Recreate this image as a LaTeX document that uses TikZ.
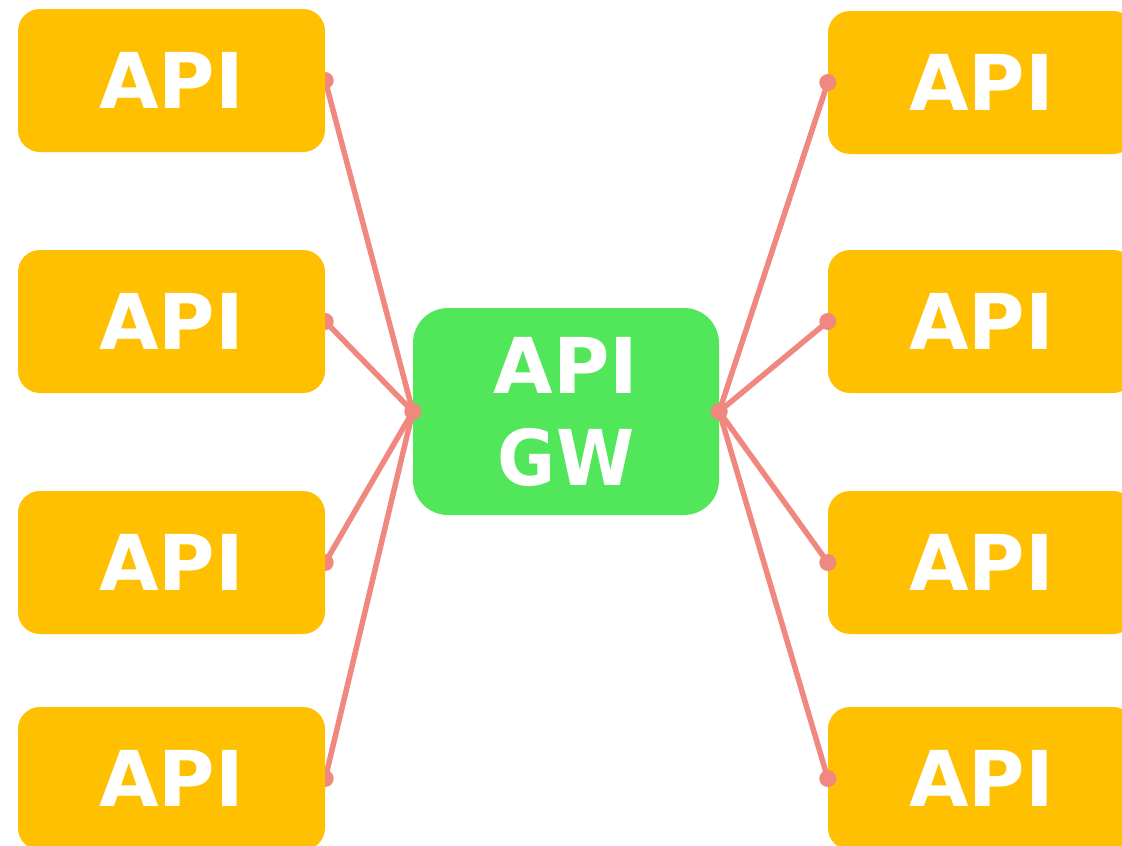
\documentclass[tikz,border=0pt]{standalone}
\usepackage{fontspec}
\setmainfont{DejaVu Sans}
\definecolor{apiyellow}{RGB}{254,192,0}
\definecolor{gwgreen}{RGB}{82,231,90}
\definecolor{linkred}{RGB}{240,136,128}
\pgfdeclarelayer{front}
\pgfsetlayers{main,front}
\begin{document}
\begin{tikzpicture}[x=1pt,y=-1pt,
  api/.style={rectangle, rounded corners=22pt, fill=apiyellow,
    minimum width=307pt, minimum height=143pt, inner sep=0pt,
    text=white, font=\fontsize{77}{92}\selectfont\bfseries},
  gwbox/.style={rectangle, rounded corners=35pt, fill=gwgreen,
    minimum width=306pt, minimum height=207pt, inner sep=0pt,
    align=center, text=white, font=\fontsize{77}{92}\selectfont\bfseries},
  link/.style={draw=linkred, line width=5.5pt},
  joint/.style={fill=linkred}]
\useasboundingbox (0,0) rectangle (1122,846);
\clip (0,0) rectangle (1122,846);

% services on the left sit above their connectors
\begin{pgfonlayer}{front}
  \node[api] (l1) at (171.5,80.5) {API};
  \node[api] (l2) at (171.5,321.5) {API};
  \node[api] (l3) at (171.5,562.5) {API};
  \node[api] (l4) at (171.5,778.5) {API};
\end{pgfonlayer}

% gateway
\node[gwbox] (gw) at (566,411.5) {API\\\scalebox{0.92}[1]{GW}};

% services on the right
\node[api] (r1) at (981.5,82.5) {API};
\node[api] (r2) at (981.5,321.5) {API};
\node[api] (r3) at (981.5,562.5) {API};
\node[api] (r4) at (981.5,778.5) {API};

% connectors
\foreach \s in {l1,l2,l3,l4}
  \draw[link] (\s.east) -- (gw.west);
\foreach \s in {r1,r2,r3,r4}
  \draw[link] (gw.east) -- (\s.west);

% end points
\foreach \s in {l1,l2,l3,l4}
  \fill[joint] (\s.east) circle (8.5pt);
\foreach \s in {r1,r2,r3,r4}
  \fill[joint] (\s.west) circle (8.5pt);
\fill[joint] (gw.west) circle (8.5pt);
\fill[joint] (gw.east) circle (8.5pt);
\end{tikzpicture}
\end{document}
